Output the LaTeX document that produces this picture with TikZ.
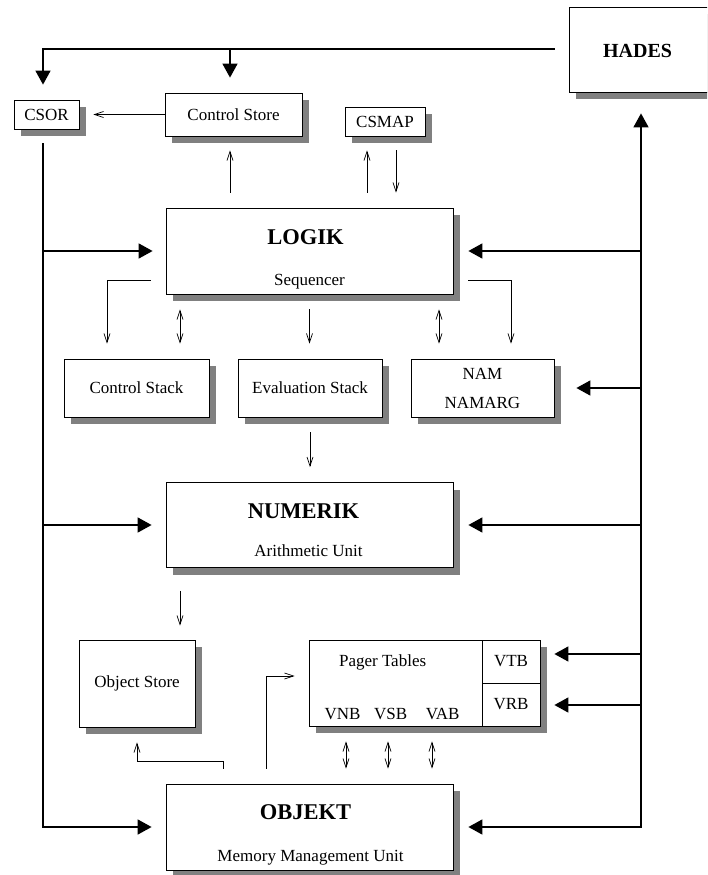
\documentclass[tikz,border=0pt]{standalone}
\usepackage{fontspec}
\setmainfont{Liberation Serif}
\usetikzlibrary{arrows.meta,shadows,calc}
\tikzset{
  box/.style={draw=black, line width=0.8pt, fill=white, inner sep=0pt,
    drop shadow={shadow xshift=7pt, shadow yshift=-7pt, fill=black!50, opacity=1},
    font=\fontsize{17}{20}\selectfont},
  cell/.style={draw=black, line width=0.8pt, fill=white, inner sep=0pt,
    minimum width=58pt, minimum height=43pt, font=\fontsize{17}{20}\selectfont},
  ttl/.style={font=\bfseries\fontsize{22.5}{27}\selectfont, inner sep=0pt},
  lbl/.style={font=\fontsize{17}{20}\selectfont, inner sep=0pt},
  big/.style={line width=1.6pt, line join=miter, -{Triangle[length=14pt,width=15pt]}},
  bigboth/.style={line width=1.6pt, line join=miter, {Triangle[length=14pt,width=15pt]}-{Triangle[length=14pt,width=15pt]}},
  small/.style={line width=0.7pt, -{Straight Barb[length=9pt,width=6pt]}},
  sboth/.style={line width=0.7pt, {Straight Barb[length=9pt,width=6pt]}-{Straight Barb[length=9pt,width=6pt]}}
}
\begin{document}
\begin{tikzpicture}[x=1pt,y=-1pt]
\useasboundingbox (0,0) rectangle (707,875);
\clip (0,0) rectangle (707,875);
\fill[white] (0,0) rectangle (707,875);

% bus x positions
\coordinate (Lx) at (43,0);
\coordinate (Rx) at (641,0);
\coordinate (xcs) at (230,0);
\coordinate (xm1) at (367,0);
\coordinate (xm2) at (396,0);
\coordinate (x107) at (107,0);
\coordinate (x180) at (180,0);
\coordinate (x439) at (439,0);
\coordinate (x511) at (511,0);
\coordinate (xo1) at (223,0);
\coordinate (xo2) at (266,0);
\coordinate (xp1) at (346,0);
\coordinate (xp2) at (388,0);
\coordinate (xp3) at (432,0);

% boxes
\node[box, minimum width=65pt, minimum height=29pt] (csor) at (46.5,114.5) {CSOR};
\node[box, minimum width=137pt, minimum height=43pt] (cstore) at (233.5,114.5) {Control Store};
\node[box, minimum width=80pt, minimum height=29pt] (csmap) at (385,121.5) {CSMAP};
\node[box, minimum width=143pt, minimum height=85pt] (hades) at (640.5,49.5) {};
\node[ttl, font=\bfseries\fontsize{20}{24}\selectfont] (hadest) at ($(hades.west)+(69,1.5)$) {HADES};

\node[box, minimum width=287pt, minimum height=86pt] (logik) at (309.5,251) {};
\node[ttl] (logikt) at ($(logik.north)+(-4,30)$) {LOGIK};
\node[lbl] (logiks) at ($(logik.north)+(0,74)$) {Sequencer};

\node[box, minimum width=145pt, minimum height=58pt] (cstack) at (136.5,388) {Control Stack};
\node[box, minimum width=144pt, minimum height=58pt] (estack) at (310,388) {Evaluation Stack};
\node[box, minimum width=143pt, minimum height=58pt, align=center,
      font=\fontsize{17}{29}\selectfont] (nam) at (482.5,388) {NAM\\NAMARG};

\node[box, minimum width=287pt, minimum height=85pt] (numerik) at (309.5,525) {};
\node[ttl] (numerikt) at ($(numerik.north)+(-6,29)$) {NUMERIK};
\node[lbl] (numeriks) at ($(numerik.north)+(-1,69)$) {Arithmetic Unit};

\node[box, minimum width=116pt, minimum height=87pt] (ostore) at (137,683.5) {Object Store};

\node[box, minimum width=231pt, minimum height=86pt] (pager) at (424.5,683) {};
\node[cell] (vtb) at (511,661.5) {VTB};
\node[cell] (vrb) at (511,704.5) {VRB};
\node[lbl] (pagert) at ($(pager.north west)+(74,23)$) {Pager Tables};
\node[lbl] (vnb) at ($(pager.north west)+(34,74)$) {VNB};
\node[lbl] (vsb) at ($(pager.north west)+(82,74)$) {VSB};
\node[lbl] (vab) at ($(pager.north west)+(134,74)$) {VAB};

\node[box, minimum width=287pt, minimum height=86pt] (objekt) at (309.5,827) {};
\node[ttl] (objektt) at ($(objekt.north)+(-4,29)$) {OBJEKT};
\node[lbl] (objekts) at ($(objekt.north)+(1,74)$) {Memory Management Unit};

% top bus from HADES
\draw[big] ($(hades.west)+(-14,-0.5)$) -- ($(hades.west -| Lx)+(0,-0.5)$) -- ($(csor.north -| Lx)+(0,-15)$);
\draw[big] ($(hades.west -| xcs)+(0,-0.5)$) -- ($(cstore.north -| xcs)+(0,-15)$);

% control store area
\draw[small] (cstore.west) -- ($(csor.east)+(14,0)$);
\draw[small] ($(logik.north -| xcs)+(0,-15)$) -- ($(cstore.south -| xcs)+(0,14)$);
\draw[small] ($(logik.north -| xm1)+(0,-15)$) -- ($(csmap.south -| xm1)+(0,14)$);
\draw[small] ($(csmap.south -| xm2)+(0,14)$) -- ($(logik.north -| xm2)+(0,-15)$);

% left bus from CSOR
\draw[big] ($(csor.south -| Lx)+(0,14)$) -- (objekt.west -| Lx) -- ($(objekt.west)+(-14,0)$);
\draw[big] (logik.west -| Lx) -- ($(logik.west)+(-13,0)$);
\draw[big] (numerik.west -| Lx) -- ($(numerik.west)+(-14,0)$);

% right bus to HADES
\draw[bigboth] ($(hades.south -| Rx)+(0,21)$) -- (objekt.east -| Rx) -- ($(objekt.east)+(15,0)$);
\draw[big] (logik.east -| Rx) -- ($(logik.east)+(15,0)$);
\draw[big] (nam.east -| Rx) -- ($(nam.east)+(22,0)$);
\draw[big] (numerik.east -| Rx) -- ($(numerik.east)+(15,0)$);
\draw[big] ($(vtb.east -| Rx)+(0,-7.5)$) -- ($(vtb.east)+(14,-7.5)$);
\draw[big] ($(vrb.east -| Rx)+(0,0.5)$) -- ($(vrb.east)+(14,0.5)$);

% LOGIK to stacks
\draw[small] ($(logik.south west)+(-15,-14)$) -| ($(cstack.north -| x107)+(0,-15)$);
\draw[sboth] ($(logik.south -| x180)+(0,15)$) -- ($(cstack.north -| x180)+(0,-15)$);
\draw[small] ($(logik.south)+(0,15)$) -- ($(estack.north -| logik.south)+(0,-15)$);
\draw[sboth] ($(logik.south -| x439)+(0,15)$) -- ($(nam.north -| x439)+(0,-15)$);
\draw[small] ($(logik.south east)+(15,-14)$) -| ($(nam.north -| x511)+(0,-15)$);

% stacks to NUMERIK, NUMERIK to object store
\draw[small] ($(estack.south)+(0,15)$) -- ($(numerik.north -| estack.south)+(0,-15)$);
\draw[small] ($(numerik.south -| x180)+(0,23)$) -- ($(ostore.north -| x180)+(0,-14)$);

% OBJEKT connections
\draw[small] ($(objekt.north -| xo1)+(0,-15)$) -- ++(0,-7) -| ($(ostore.south)+(0,15)$);
\draw[small] ($(objekt.north -| xo2)+(0,-15)$) |- ($(pager.west)+(-14,-7)$);
\foreach \p in {xp1,xp2,xp3}
  \draw[sboth] ($(pager.south -| \p)+(0,15)$) -- ($(objekt.north -| \p)+(0,-15)$);
\end{tikzpicture}
\end{document}
